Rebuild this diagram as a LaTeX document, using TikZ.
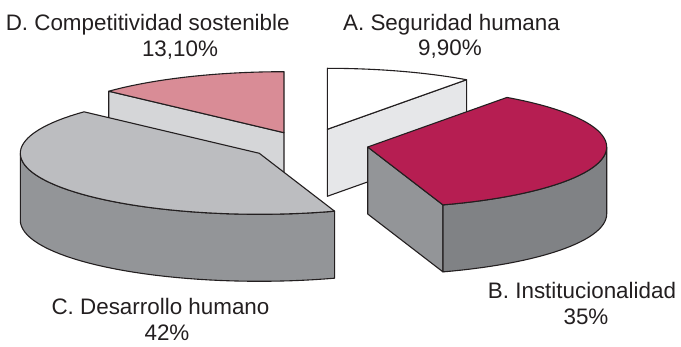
\documentclass[tikz,border=0pt]{standalone}
\usepackage{fontspec}
\setmainfont{Liberation Sans}
\usetikzlibrary{calc}
\definecolor{ink}{HTML}{231F20}
\definecolor{sideA}{HTML}{E6E7E9}
\definecolor{topD}{HTML}{D98C96}
\definecolor{sideD}{HTML}{D5D6D8}
\definecolor{topC}{HTML}{BCBDC0}
\definecolor{sideC}{HTML}{939598}
\definecolor{topB}{HTML}{B61E52}
\definecolor{frontB}{HTML}{939598}
\definecolor{sideB}{HTML}{808285}
\tikzset{face/.style={draw=ink,line width=1.1pt,line join=round},
  lbl/.style={anchor=base,inner sep=0pt,text=ink,font=\fontsize{22.4}{26}\selectfont}}
\newcommand{\rx}{239}
\newcommand{\ry}{61}
\newcommand{\hgt}{67}

\begin{document}
\begin{tikzpicture}[x=1pt,y=-1pt]
\useasboundingbox (0,0) rectangle (681,347);
\coordinate (PA) at (327.3,129.3);
\coordinate (PD) at (284,132.7);
\coordinate (PC) at (259.3,153.3);
\coordinate (PB) at (367.7,147);
% A. Seguridad humana
\begin{scope}[shift={(PA)}]
\draw[face,fill=sideA] (0,0) -- ({\rx*cos(54.36)},{-\ry*sin(54.36)}) -- ++(0,\hgt) -- (0,\hgt) -- cycle;
\draw[face,fill=white] (0,0) -- plot[domain=54.36:90,samples=20] ({\rx*cos(\x)},{-\ry*sin(\x)}) -- cycle;
\end{scope}
% D. Competitividad sostenible
\begin{scope}[shift={(PD)}]
\draw[face,fill=sideD] (0,0) -- ({\rx*cos(137.16)},{-\ry*sin(137.16)}) -- ++(0,\hgt) -- (0,\hgt) -- cycle;
\draw[face,fill=topD] (0,0) -- plot[domain=90:137.16,samples=20] ({\rx*cos(\x)},{-\ry*sin(\x)}) -- cycle;
\end{scope}
% C. Desarrollo humano
\begin{scope}[shift={(PC)}]
\draw[face,fill=sideC] (-\rx,0) -- (-\rx,\hgt) -- plot[domain=180:288.36,samples=40] ({\rx*cos(\x)},{\hgt-\ry*sin(\x)})
  -- plot[domain=288.36:180,samples=40] ({\rx*cos(\x)},{-\ry*sin(\x)}) -- cycle;
\draw[face,fill=topC] (0,0) -- plot[domain=137.16:288.36,samples=60] ({\rx*cos(\x)},{-\ry*sin(\x)}) -- cycle;
\end{scope}
% B. Institucionalidad
\begin{scope}[shift={(PB)}]
\draw[face,fill=frontB] (0,0) -- ({\rx*cos(288.36)},{-\ry*sin(288.36)}) -- ++(0,\hgt) -- (0,\hgt) -- cycle;
\draw[face,fill=sideB] plot[domain=288.36:360,samples=30] ({\rx*cos(\x)},{-\ry*sin(\x)})
  -- plot[domain=360:288.36,samples=30] ({\rx*cos(\x)},{\hgt-\ry*sin(\x)}) -- cycle;
\draw[face,fill=topB] (0,0) -- plot[domain=288.36:414.36,samples=50] ({\rx*cos(\x)},{-\ry*sin(\x)}) -- cycle;
\end{scope}
% labels
\node[lbl] (labD) at (147.7,31) {D. Competitividad sostenible};
\node[lbl] (pctD) at (180,56.5) {13,10\%};
\node[lbl] (labA) at (451.5,30.5) {A. Seguridad humana};
\node[lbl] (pctA) at (450,55.5) {9,90\%};
\node[lbl] (labC) at (160.5,315) {C. Desarrollo humano};
\node[lbl] (pctC) at (167,341) {42\%};
\node[lbl] (labB) at (582,299) {B. Institucionalidad};
\node[lbl] (pctB) at (586,325) {35\%};
\end{tikzpicture}
\end{document}
